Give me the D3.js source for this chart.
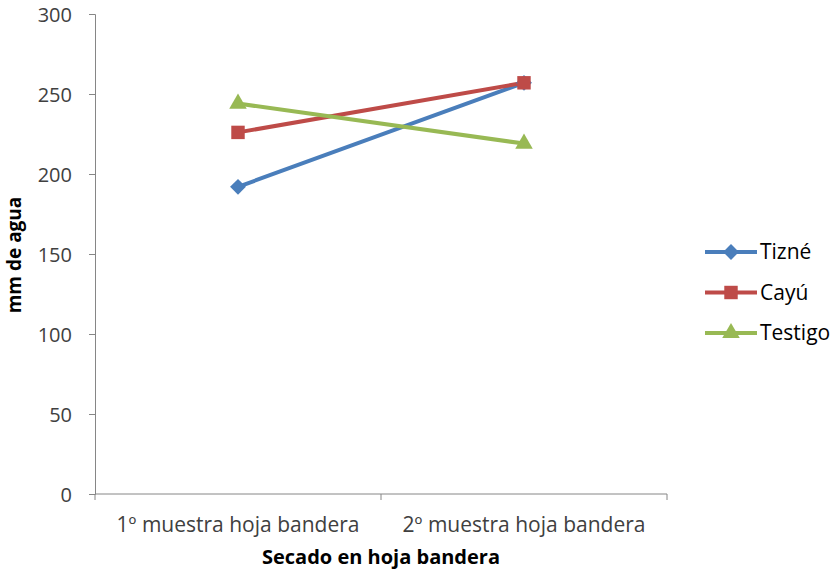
<!DOCTYPE html>
<html>
<head>
<meta charset="utf-8">
<script src="https://cdn.jsdelivr.net/npm/d3@7"></script>
<style>
  body { margin: 0; background: #fff; }
  text { font-family: "Open Sans", "Liberation Sans", sans-serif; fill: #404040; }
</style>
</head>
<body>
<svg id="chart"></svg>
<script>
// Data
const categories = ["1º muestra hoja bandera", "2º muestra hoja bandera"];
const seriesNames = ["Tizné", "Cayú", "Testigo"];
const tizne = [192, 257];
const cayu = [226, 257];
const testigo = [244, 219];
const yTicks = [0, 50, 100, 150, 200, 250, 300];

const colors = { "Tizné": "#4a7ebb", "Cayú": "#be4b48", "Testigo": "#98b954" };
const symbols = { "Tizné": d3.symbolDiamond2, "Cayú": d3.symbolSquare2, "Testigo": d3.symbolTriangle2 };
const symbolSizes = { "Tizné": 160, "Cayú": 230, "Testigo": 220 };
const series = [
  { name: "Tizné", values: tizne },
  { name: "Cayú", values: cayu },
  { name: "Testigo", values: testigo }
];

const W = 834, H = 570;
const plot = { left: 95, right: 667, top: 14, bottom: 494 };

const svg = d3.select("#chart").attr("width", W).attr("height", H);

const x = d3.scaleBand().domain(categories).range([plot.left, plot.right]);
const y = d3.scaleLinear().domain([0, 300]).range([plot.bottom, plot.top]);

const axisColor = "#868686";

// y axis
const yAxis = svg.append("g")
  .attr("transform", `translate(${plot.left},0)`)
  .call(d3.axisLeft(y).tickValues(yTicks).tickSize(6).tickPadding(17));
yAxis.select(".domain").attr("stroke", axisColor);
yAxis.selectAll(".tick line").attr("stroke", axisColor);
yAxis.selectAll(".tick text").style("font-size", "20px").attr("fill", "#404040").attr("dy", "0.35em");

// x axis with ticks at category boundaries
const xAxis = svg.append("g").attr("transform", `translate(0,${plot.bottom})`);
xAxis.append("line")
  .attr("x1", plot.left).attr("x2", plot.right)
  .attr("stroke", axisColor);
const bounds = [plot.left].concat(categories.map(c => x(c) + x.bandwidth()));
xAxis.selectAll("line.tk").data(bounds).enter().append("line")
  .attr("class", "tk")
  .attr("x1", d => d).attr("x2", d => d)
  .attr("y1", 0).attr("y2", 6)
  .attr("stroke", axisColor);
xAxis.selectAll("text").data(categories).enter().append("text")
  .attr("x", d => x(d) + x.bandwidth() / 2)
  .attr("y", 38)
  .attr("text-anchor", "middle")
  .style("font-size", "21px")
  .text(d => d);

// axis titles
svg.append("text")
  .attr("x", 381).attr("y", 564)
  .attr("text-anchor", "middle")
  .style("font-size", "20px").style("font-weight", "bold")
  .style("fill", "#000")
  .text("Secado en hoja bandera");
svg.append("text")
  .attr("transform", "translate(21,255) rotate(-90)")
  .attr("text-anchor", "middle")
  .style("font-size", "19px").style("font-weight", "bold")
  .style("fill", "#000")
  .text("mm de agua");

// lines
const line = d3.line()
  .x((d, i) => x(categories[i]) + x.bandwidth() / 2)
  .y(d => y(d));

series.forEach(s => {
  svg.append("path")
    .datum(s.values)
    .attr("d", line)
    .attr("fill", "none")
    .attr("stroke", colors[s.name])
    .attr("stroke-width", 4)
    .attr("stroke-linecap", "round");
});
series.forEach(s => {
  svg.selectAll(null).data(s.values).enter().append("path")
    .attr("d", d3.symbol().type(symbols[s.name]).size(symbolSizes[s.name]))
    .attr("transform", (d, i) => `translate(${x(categories[i]) + x.bandwidth() / 2},${y(d)})`)
    .attr("fill", colors[s.name]);
});

// legend
const legend = svg.append("g").attr("transform", "translate(705,252)");
seriesNames.forEach((name, i) => {
  const g = legend.append("g").attr("transform", `translate(0,${i * 40.5})`);
  g.append("line").attr("x1", 0).attr("x2", 52).attr("y1", 0).attr("y2", 0)
    .attr("stroke", colors[name]).attr("stroke-width", 4);
  g.append("path")
    .attr("d", d3.symbol().type(symbols[name]).size(symbolSizes[name]))
    .attr("transform", "translate(26,0)")
    .attr("fill", colors[name]);
  g.append("text").attr("x", 55).attr("y", 0).attr("dy", "0.35em")
    .style("font-size", "21px").style("fill", "#000")
    .text(name);
});
</script>
</body>
</html>
